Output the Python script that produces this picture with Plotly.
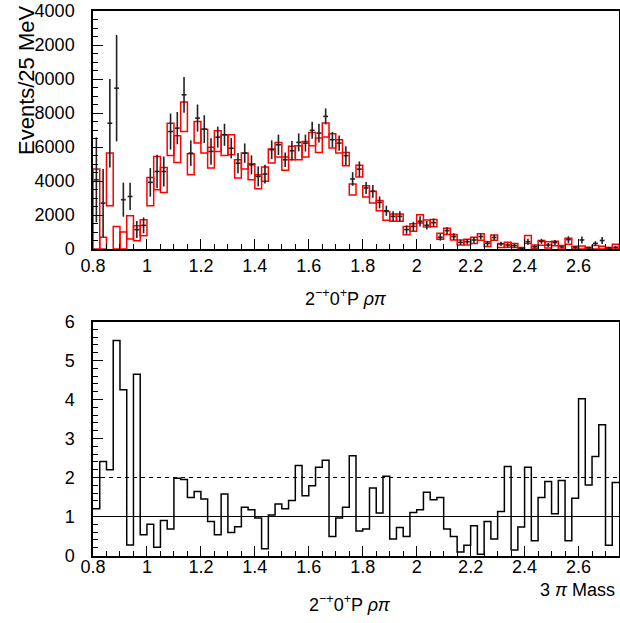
import plotly.graph_objects as go

# ---------------- data ----------------
mass_lo = 0.8
bin_width = 0.025
n_bins = 78

# top panel: data (events / 25 MeV) with errors
data_counts = [4070, 2700, 7400, 9460, 2900, 3090, 1140, 1390, 3920, 4560,
               4560, 6910, 7110, 9070, 5640, 7700, 7050, 5740, 6580, 6720,
               5930, 5050, 5640, 4950, 4270, 4410, 5840, 6130, 5250, 5780,
               6270, 6230, 6980, 6820, 7800, 6430, 6230, 5490, 4120, 4700,
               3590, 3390, 2740, 2250, 1920, 1920, 1140, 1330, 1630, 1400,
               1550, 690, 1080, 730, 390, 430, 530, 730, 330, 680,
               300, 235, 200, 40, 430, 140, 450, 235, 380, 120,
               550, 90, 530, 70, 330, 500, 70, 100]
data_errors = [2500, 2000, 2600, 3130, 1000, 800, 500, 470, 840, 980,
               880, 1060, 950, 1050, 750, 800, 820, 780, 620, 650,
               600, 600, 570, 560, 590, 550, 550, 600, 430, 570,
               530, 500, 500, 550, 470, 450, 450, 550, 400, 450,
               350, 370, 350, 300, 300, 300, 250, 270, 300, 250,
               250, 200, 200, 200, 150, 150, 170, 170, 150, 170,
               120, 120, 120, 60, 180, 100, 150, 120, 150, 80,
               200, 80, 200, 60, 130, 200, 60, 80]
# top panel: model band (low / high edge of each red box)
model_low = [0, 0, 2550, 0, 0, 590, 490, 780, 2550, 3490,
             3330, 5500, 5090, 6910, 4370, 6230, 5640, 4760, 5740, 5500,
             5540, 4170, 4700, 4070, 3540, 3980, 5060, 5410, 4630, 5250,
             5250, 5410, 6080, 5680, 6590, 5940, 5640, 4900, 3180, 4230,
             3060, 2700, 2250, 1690, 1630, 1630, 840, 1040, 1530, 1300,
             1310, 570, 860, 530, 235, 235, 330, 510, 140, 510,
             90, 110, 90, 0, 330, 40, 220, 60, 190, 0,
             280, 0, 0, 0, 0, 0, 0, 0]
model_high = [4700, 690, 5640, 1330, 1000, 1960, 1370, 1720, 4210, 5440,
              4800, 7400, 6660, 8640, 5600, 7500, 7050, 5990, 6950, 6720,
              6720, 5250, 5640, 5010, 4370, 4820, 5880, 6270, 5410, 6040,
              6080, 6330, 6860, 6530, 7410, 6780, 6430, 5680, 3820, 4920,
              3720, 3390, 2860, 2210, 2060, 2060, 1330, 1490, 2020, 1700,
              1740, 920, 1220, 860, 530, 570, 690, 900, 430, 820,
              330, 390, 330, 90, 800, 235, 500, 430, 460, 200,
              630, 160, 180, 110, 210, 160, 90, 280]
# bottom panel: per-bin ratio histogram
ratio_values = [1.20, 2.41, 2.20, 5.51, 4.25, 0.27, 4.65, 0.53, 0.80, 0.21,
                0.90, 0.68, 1.98, 1.95, 1.49, 1.64, 1.45, 0.87, 0.53, 1.58,
                0.59, 0.74, 1.24, 1.17, 0.96, 0.17, 1.04, 1.32, 1.20, 1.41,
                2.31, 1.53, 1.79, 2.26, 2.44, 0.49, 0.96, 1.24, 2.56, 0.63,
                0.68, 1.73, 1.09, 2.03, 0.42, 0.72, 0.49, 1.10, 1.17, 1.62,
                1.43, 1.49, 0.68, 0.49, 0.09, 0.26, 0.76, 0.03, 0.87, 0.42,
                1.13, 2.28, 0.14, 0.73, 2.26, 0.38, 1.49, 1.90, 1.07, 1.92,
                0.38, 1.47, 4.02, 1.81, 2.54, 3.35, 0.26, 1.87]
ref_solid = 1
ref_dashed = 2

x_tick_step = 0.2
top_y_ticks = [0, 2000, 4000, 6000, 8000, 10000, 12000, 14000]
hidden = '<span style="color:rgba(0,0,0,0)">1</span>'
top_y_ticktext = ["0", "2000", "4000", "6000", "8000",
                  hidden + "0000", hidden + "2000", hidden + "4000"]

x_title = "2<sup>\u2212+</sup>0<sup>+</sup>P <i>\u03c1\u03c0</i>"
y_title = "Events/25 MeV"
mass_label = "3 <i>\u03c0</i> Mass"

# ---------------- derived bin positions ----------------
edges = [mass_lo + bin_width * i for i in range(n_bins + 1)]
centers = [mass_lo + bin_width * (i + 0.5) for i in range(n_bins)]
x_max = edges[-1]

# ---------------- figure ----------------
W, H = 620, 623
FONT = "Liberation Sans"


def py(pix):
    return 1 - pix / H


fig = go.Figure()

fig.add_trace(go.Bar(
    x=centers,
    y=[h - l for h, l in zip(model_high, model_low)],
    base=model_low,
    width=bin_width,
    marker=dict(color="rgba(0,0,0,0)", line=dict(color="#ff0000", width=1.5)),
    xaxis="x", yaxis="y", showlegend=False, hoverinfo="skip",
))

fig.add_trace(go.Scatter(
    x=centers, y=data_counts, mode="markers",
    marker=dict(size=1, color="#222222"),
    error_y=dict(type="data", array=data_errors, width=0, thickness=1.6, color="#222222"),
    error_x=dict(type="constant", value=0.009, width=0, thickness=1.6, color="#222222"),
    xaxis="x", yaxis="y", showlegend=False,
))

fig.add_trace(go.Scatter(
    x=edges, y=ratio_values + [ratio_values[-1]], mode="lines",
    line=dict(shape="hv", color="black", width=1.5),
    xaxis="x2", yaxis="y2", showlegend=False,
))

tickfont = dict(family=FONT, size=18, color="black")
axis_common = dict(showline=True, linecolor="black", linewidth=1.5, mirror=True,
                   ticks="inside", tickcolor="black", tickwidth=1, showgrid=False,
                   zeroline=False, tickfont=tickfont, automargin=False)

xdom = [93 / W, 619 / W]

fig.update_layout(
    width=W, height=H,
    margin=dict(l=0, r=0, t=0, b=0, autoexpand=False),
    paper_bgcolor="white", plot_bgcolor="white",
    barmode="overlay",
    xaxis=dict(domain=xdom, anchor="y", range=[mass_lo, x_max],
               tickmode="linear", tick0=mass_lo, dtick=x_tick_step, ticklen=10,
               ticklabelstandoff=0,
               minor=dict(ticks="inside", dtick=bin_width * 2, ticklen=5, tickcolor="black", showgrid=False),
               **axis_common),
    yaxis=dict(domain=[py(249), py(11)], anchor="x", range=[0, 14000],
               tickmode="array", tickvals=top_y_ticks, ticktext=top_y_ticktext, ticklen=10,
               ticklabelstandoff=13,
               minor=dict(ticks="inside", dtick=500, ticklen=5, tickcolor="black", showgrid=False),
               **axis_common),
    xaxis2=dict(domain=xdom, anchor="y2", range=[mass_lo, x_max],
                tickmode="linear", tick0=mass_lo, dtick=x_tick_step, ticklen=10,
                ticklabelstandoff=-6,
                minor=dict(ticks="inside", dtick=bin_width * 2, ticklen=5, tickcolor="black", showgrid=False),
                **axis_common),
    yaxis2=dict(domain=[py(555.5), py(321.5)], anchor="x2", range=[0, 6],
                tickmode="linear", tick0=0, dtick=1, ticklen=10,
                ticklabelstandoff=13,
                minor=dict(ticks="inside", dtick=0.2, ticklen=5, tickcolor="black", showgrid=False),
                **axis_common),
    shapes=[
        dict(type="line", xref="x2 domain", yref="y2", x0=0, x1=1, y0=ref_solid, y1=ref_solid,
             line=dict(color="black", width=1.2)),
        dict(type="line", xref="x2 domain", yref="y2", x0=0, x1=1, y0=ref_dashed, y1=ref_dashed,
             line=dict(color="black", width=1.2, dash="4px,4px")),
    ],
    annotations=[
        dict(text=y_title, textangle=-90, xref="paper", yref="paper",
             x=27 / W, y=py(80), xanchor="center", yanchor="middle", showarrow=False,
             font=dict(family=FONT, size=22, color="black")),
        dict(text=x_title, xref="paper", yref="paper", x=346 / W, y=py(297),
             xanchor="center", yanchor="middle", showarrow=False,
             font=dict(family=FONT, size=18, color="black")),
        dict(text=x_title, xref="paper", yref="paper", x=350 / W, y=py(603),
             xanchor="center", yanchor="middle", showarrow=False,
             font=dict(family=FONT, size=18, color="black")),
        dict(text=mass_label, xref="paper", yref="paper", x=617 / W, y=py(590),
             xanchor="right", yanchor="middle", showarrow=False,
             font=dict(family=FONT, size=18, color="black")),
    ],
)

fig.write_html("out.html", config={"displayModeBar": False},
               post_script="document.body.style.margin='0px';")
